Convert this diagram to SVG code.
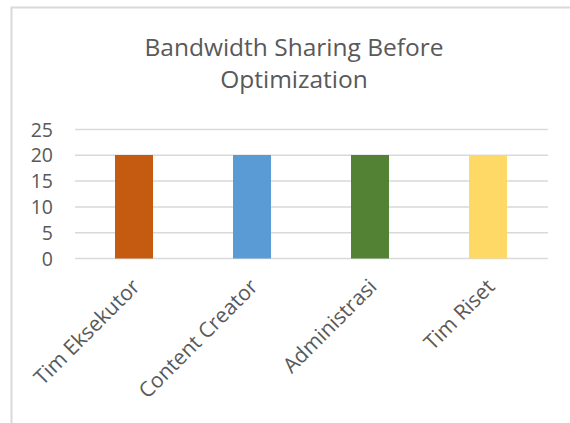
<svg xmlns="http://www.w3.org/2000/svg" width="570" height="423" viewBox="0 0 570 423">
  <style>
    .frame { fill: #ffffff; stroke: #d9d9d9; stroke-width: 2; }
    .grid { stroke: #d9d9d9; stroke-width: 1.5; }
    .title { font-family: "Open Sans", "Liberation Sans", sans-serif; font-size: 24.5px; fill: #595959; text-anchor: middle; }
    .tick { font-family: "Open Sans", "Liberation Sans", sans-serif; font-size: 19.5px; fill: #595959; text-anchor: end; }
    .cat { font-family: "Open Sans", "Liberation Sans", sans-serif; font-size: 21px; fill: #595959; text-anchor: end; }
  </style>
  <rect x="0" y="0" width="570" height="423" fill="#ffffff"/>
  <!-- chart area border -->
  <rect class="frame" x="11.5" y="7.5" width="580" height="440"/>

  <!-- title -->
  <g id="title">
    <text class="title" x="294" y="56">Bandwidth Sharing Before</text>
    <text class="title" x="294" y="88">Optimization</text>
  </g>

  <!-- horizontal gridlines -->
  <g id="gridlines">
    <line class="grid" x1="75" y1="129.5" x2="548" y2="129.5"/>
    <line class="grid" x1="75" y1="155.3" x2="548" y2="155.3"/>
    <line class="grid" x1="75" y1="181.1" x2="548" y2="181.1"/>
    <line class="grid" x1="75" y1="206.9" x2="548" y2="206.9"/>
    <line class="grid" x1="75" y1="232.7" x2="548" y2="232.7"/>
    <line class="grid" x1="75" y1="258.5" x2="548" y2="258.5"/>
  </g>

  <!-- value axis labels -->
  <g id="value-axis">
    <text class="tick" x="53" y="136.5">25</text>
    <text class="tick" x="53" y="162.3">20</text>
    <text class="tick" x="53" y="188.1">15</text>
    <text class="tick" x="53" y="213.9">10</text>
    <text class="tick" x="53" y="239.7">5</text>
    <text class="tick" x="53" y="265.5">0</text>
  </g>

  <!-- bars (value 20 each) -->
  <g id="bar-tim-eksekutor"><rect x="115" y="155" width="38" height="103.5" fill="#c55a11"/></g>
  <g id="bar-content-creator"><rect x="233" y="155" width="38" height="103.5" fill="#5b9bd5"/></g>
  <g id="bar-administrasi"><rect x="351" y="155" width="38" height="103.5" fill="#548235"/></g>
  <g id="bar-tim-riset"><rect x="469" y="155" width="38" height="103.5" fill="#ffd966"/></g>

  <!-- category axis labels -->
  <g id="category-axis">
    <text class="cat" transform="translate(141,288) rotate(-45)">Tim Eksekutor</text>
    <text class="cat" transform="translate(259,288) rotate(-45)">Content Creator</text>
    <text class="cat" transform="translate(378,288) rotate(-45)">Administrasi</text>
    <text class="cat" transform="translate(496,288) rotate(-45)">Tim Riset</text>
  </g>
</svg>
